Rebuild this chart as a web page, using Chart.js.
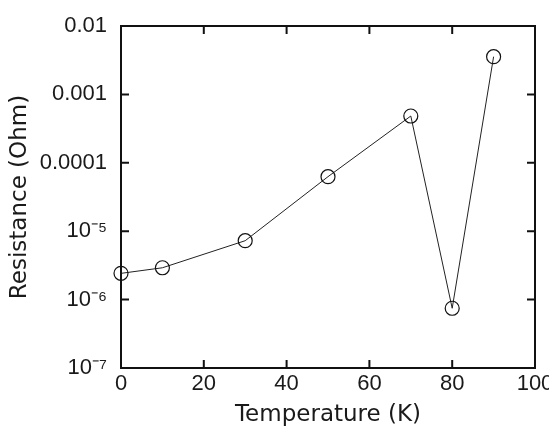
<!DOCTYPE html>
<html>
<head>
<meta charset="utf-8">
<script src="https://cdn.jsdelivr.net/npm/chart.js@4/dist/chart.umd.min.js"></script>
<style>
  html, body { margin: 0; padding: 0; background: #fff; }
  #wrap { width: 549px; height: 430px; position: relative; }
</style>
</head>
<body>
<div id="wrap"><canvas id="c" width="549" height="430"></canvas></div>
<script>
// ---- data ----
const temperatures = [0, 10, 30, 50, 70, 80, 90];
const resistances = [2.42e-6, 2.92e-6, 7.26e-6, 6.27e-5, 4.83e-4, 7.47e-7, 3.56e-3];
const xTickValues = [0, 20, 40, 60, 80, 100];
const yTickValues = [1e-7, 1e-6, 1e-5, 1e-4, 1e-3, 1e-2];
const yTickLabels = ['10\u207B\u2077', '10\u207B\u2076', '10\u207B\u2075', '0.0001', '0.001', '0.01'];
const xTitle = 'Temperature (K)';
const yTitle = 'Resistance (Ohm)';

const frame = {
  id: 'frame',
  afterDraw(chart) {
    const { ctx, chartArea: a, scales } = chart;
    const len = 8;
    ctx.save();
    ctx.strokeStyle = '#111';
    ctx.lineWidth = 2;
    ctx.strokeRect(a.left, a.top, a.right - a.left, a.bottom - a.top);
    ctx.beginPath();
    scales.x.ticks.forEach(t => {
      const px = scales.x.getPixelForValue(t.value);
      ctx.moveTo(px, a.bottom); ctx.lineTo(px, a.bottom - len);
      ctx.moveTo(px, a.top); ctx.lineTo(px, a.top + len);
    });
    scales.y.ticks.forEach(t => {
      const py = scales.y.getPixelForValue(t.value);
      ctx.moveTo(a.left, py); ctx.lineTo(a.left + len, py);
      ctx.moveTo(a.right, py); ctx.lineTo(a.right - len, py);
    });
    ctx.stroke();
    ctx.restore();
  }
};

new Chart(document.getElementById('c'), {
  type: 'scatter',
  data: {
    datasets: [{
      data: temperatures.map((t, i) => ({ x: t, y: resistances[i] })),
      showLine: true,
      borderColor: '#222',
      borderWidth: 1,
      pointRadius: 7,
      pointBorderWidth: 1.2,
      pointBorderColor: '#111',
      pointBackgroundColor: 'rgba(0,0,0,0)',
      clip: false
    }]
  },
  options: {
    responsive: false,
    animation: false,
    events: [],
    layout: { padding: { top: 26, right: 14, left: 0, bottom: 0 } },
    plugins: { legend: { display: false }, tooltip: { enabled: false } },
    scales: {
      x: {
        type: 'linear',
        min: 0, max: 100,
        afterBuildTicks(s) { s.ticks = xTickValues.map(v => ({ value: v })); },
        afterFit(s) { s.height = 62; s.paddingLeft = 0; s.paddingRight = 0; },
        grid: { display: false, drawTicks: false },
        border: { display: false },
        ticks: {
          padding: 3, maxRotation: 0, autoSkip: false,
          color: '#1a1a1a',
          font: { family: 'Liberation Sans', size: 22 }
        },
        title: {
          display: true, text: xTitle, color: '#1a1a1a',
          font: { family: 'DejaVu Sans', size: 23 },
          padding: { top: 0, bottom: 1 }
        }
      },
      y: {
        type: 'logarithmic',
        min: 1e-7, max: 1e-2,
        afterBuildTicks(s) { s.ticks = yTickValues.map(v => ({ value: v })); },
        afterFit(s) { s.width = 121; s.paddingTop = 0; s.paddingBottom = 0; },
        grid: { display: false, drawTicks: false },
        border: { display: false },
        ticks: {
          padding: 14, autoSkip: false,
          color: '#1a1a1a',
          font: { family: 'Liberation Sans', size: 22 },
          callback(v) {
            const i = yTickValues.findIndex(t => Math.abs(Math.log10(t) - Math.log10(v)) < 1e-6);
            return i >= 0 ? yTickLabels[i] : '';
          }
        },
        title: {
          display: true, text: yTitle, color: '#1a1a1a',
          font: { family: 'DejaVu Sans', size: 23 },
          padding: { top: 6, bottom: 0 }
        }
      }
    }
  },
  plugins: [frame]
});
</script>
</body>
</html>
